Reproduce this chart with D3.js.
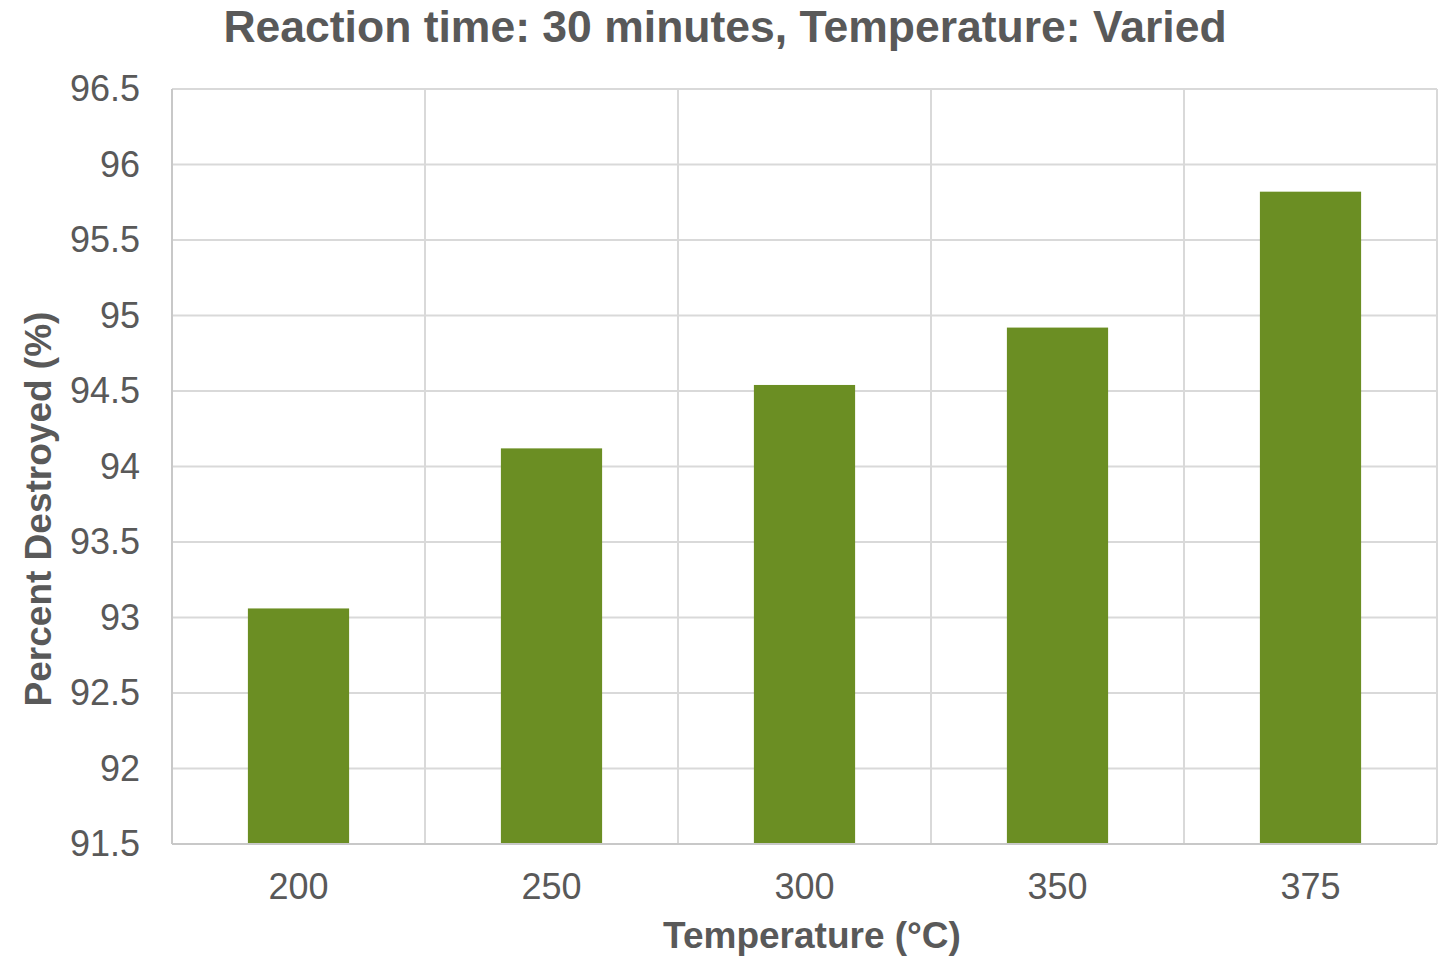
<!DOCTYPE html>
<html><head><meta charset="utf-8">
<script src="https://cdn.jsdelivr.net/npm/d3@7"></script>
<style>body{margin:0;background:#fff}svg{display:block}text{font-family:"Liberation Sans",Arial,sans-serif}</style>
</head><body>
<svg id="c" width="1443" height="958"></svg>
<script>
const categories = ["200","250","300","350","375"];
const values = [93.06, 94.12, 94.54, 94.92, 95.82];
const yTicks = [91.5,92,92.5,93,93.5,94,94.5,95,95.5,96,96.5];
const titleText = "Reaction time: 30 minutes, Temperature: Varied";
const xTitle = "Temperature (°C)";
const yTitle = "Percent Destroyed (%)";

const svg = d3.select("#c");
const L=172, R=1437, T=89, B=844;
const x = d3.scaleBand().domain(categories).range([L,R]).paddingInner(0.6).paddingOuter(0.3);
const y = d3.scaleLinear().domain([91.5,96.5]).range([B,T]);
const txt = "#595959";

// horizontal grid
svg.append("g").selectAll("line").data(yTicks).join("line")
  .attr("x1",L).attr("x2",R).attr("y1",d=>y(d)).attr("y2",d=>y(d))
  .attr("stroke","#d9d9d9").attr("stroke-width",2);
// vertical grid at band boundaries
const bounds = categories.map((c,i)=>L + (i+1)*x.step());
svg.append("g").selectAll("line").data(bounds).join("line")
  .attr("x1",d=>d).attr("x2",d=>d).attr("y1",T).attr("y2",B)
  .attr("stroke","#d9d9d9").attr("stroke-width",2);

// bars
svg.append("g").selectAll("rect").data(values).join("rect")
  .attr("x",(d,i)=>x(categories[i])).attr("width",x.bandwidth())
  .attr("y",d=>y(d)).attr("height",d=>B-y(d))
  .attr("fill","#6b8e23");

// axes lines
svg.append("line").attr("x1",L).attr("x2",L).attr("y1",T).attr("y2",B).attr("stroke","#c8c8c8").attr("stroke-width",2);
svg.append("line").attr("x1",L).attr("x2",R).attr("y1",B).attr("y2",B).attr("stroke","#c8c8c8").attr("stroke-width",2);

// y tick labels
svg.append("g").selectAll("text").data(yTicks).join("text")
  .attr("x",140).attr("y",d=>y(d)).attr("dy","0.34em").attr("text-anchor","end")
  .attr("font-size",36).attr("fill",txt).text(d=>d3.format("")(d));
// x tick labels
svg.append("g").selectAll("text").data(categories).join("text")
  .attr("x",d=>x(d)+x.bandwidth()/2).attr("y",899).attr("text-anchor","middle")
  .attr("font-size",36).attr("fill",txt).text(d=>d);

// titles
svg.append("text").attr("x",725).attr("y",42).attr("text-anchor","middle")
  .attr("font-size",44.5).attr("font-weight","bold").attr("fill",txt).text(titleText);
svg.append("text").attr("x",812).attr("y",948).attr("text-anchor","middle")
  .attr("font-size",37).attr("font-weight","bold").attr("fill",txt).text(xTitle);
svg.append("text").attr("transform","translate(51,509) rotate(-90)").attr("text-anchor","middle")
  .attr("font-size",37).attr("font-weight","bold").attr("fill",txt).text(yTitle);
</script>
</body></html>
